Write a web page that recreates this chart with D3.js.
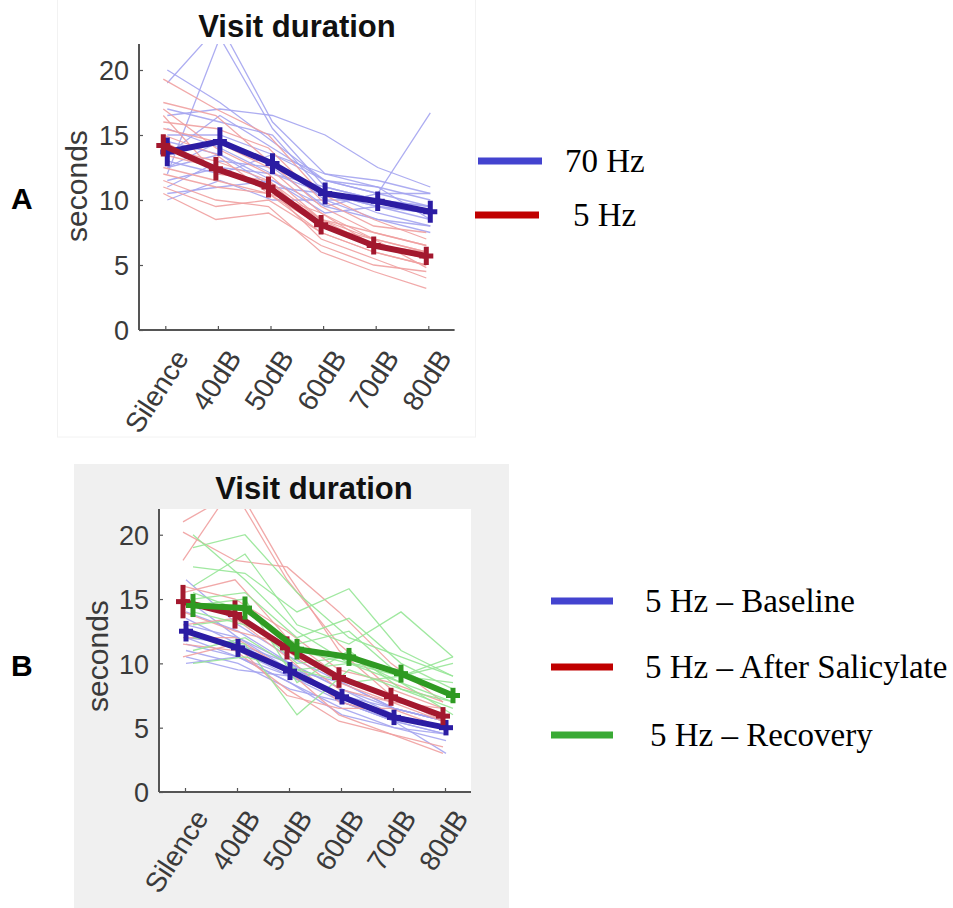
<!DOCTYPE html>
<html>
<head>
<meta charset="utf-8">
<script src="https://cdn.jsdelivr.net/npm/d3@7"></script>
<style>
  html, body { margin: 0; padding: 0; background: #ffffff; }
  svg { display: block; }
</style>
</head>
<body>
<svg id="chart" width="953" height="908"></svg>
<script>
// ---------------- DATA ----------------
const categories = ["Silence", "40dB", "50dB", "60dB", "70dB", "80dB"];
const yTicks = [0, 5, 10, 15, 20];

// Panel A — means and error (± seconds)
const a70Mean = [13.7, 14.5, 12.8, 10.5, 9.9, 9.1];
const a70Err  = [1.1, 1.1, 0.8, 0.85, 0.75, 0.85];
const a5Mean  = [14.2, 12.4, 11.0, 8.1, 6.5, 5.7];
const a5Err   = [0.85, 0.9, 0.8, 0.75, 0.7, 0.7];

// Panel A — individual animals
const a70Indiv = [
  [20.0, 17.5, 14.5, 11.5, 10.5, 9.5],
  [19.0, 23.5, 16.0, 12.0, 11.5, 10.5],
  [12.0, 22.5, 15.5, 11.0, 10.0, 9.0],
  [16.5, 17.0, 16.5, 15.0, 12.5, 11.0],
  [15.0, 15.0, 13.5, 11.5, 10.5, 16.7],
  [13.5, 16.5, 14.0, 11.5, 11.0, 10.0],
  [11.5, 12.5, 12.0, 10.5, 9.5, 9.0],
  [10.5, 11.0, 11.5, 9.0, 9.5, 8.5],
  [12.5, 14.5, 13.0, 10.0, 10.0, 9.5],
  [14.5, 13.5, 11.0, 10.5, 9.0, 8.0],
  [10.0, 11.5, 10.0, 10.0, 8.5, 7.5],
  [13.0, 12.0, 13.5, 12.0, 11.0, 8.5],
  [17.0, 16.0, 15.0, 10.5, 9.5, 9.0],
  [11.0, 13.0, 12.5, 9.5, 10.5, 10.5],
  [15.5, 14.0, 12.0, 11.0, 10.0, 9.5],
  [12.5, 13.5, 11.5, 9.5, 8.5, 8.0]
];
const a5Indiv = [
  [19.3, 17.0, 15.0, 10.5, 8.5, 7.0],
  [17.5, 16.5, 13.0, 9.5, 7.5, 6.5],
  [16.0, 15.5, 14.0, 10.0, 8.0, 7.5],
  [15.5, 14.5, 12.5, 9.0, 7.0, 6.0],
  [14.0, 13.0, 11.5, 8.5, 6.5, 6.0],
  [12.5, 11.5, 10.5, 8.0, 6.5, 5.5],
  [11.0, 9.5, 10.0, 7.5, 6.0, 5.0],
  [10.5, 8.5, 9.0, 6.5, 5.0, 4.5],
  [11.5, 10.0, 9.5, 6.0, 4.5, 3.2],
  [13.5, 12.5, 11.0, 7.0, 5.5, 4.0],
  [17.0, 14.0, 12.0, 8.5, 7.5, 6.5],
  [15.0, 13.5, 10.5, 7.5, 6.0, 5.0],
  [12.0, 11.0, 10.5, 9.0, 6.5, 5.5],
  [16.5, 12.0, 11.5, 8.0, 7.0, 4.8],
  [14.5, 12.5, 11.0, 8.5, 7.0, 6.0]
];

// Panel B — means and error
const bBaseMean = [12.5, 11.2, 9.4, 7.4, 5.8, 5.0];
const bBaseErr  = [0.8, 0.7, 0.7, 0.6, 0.6, 0.6];
const bSalMean  = [14.8, 13.8, 11.2, 8.9, 7.4, 5.9];
const bSalErr   = [1.3, 1.1, 0.9, 0.8, 0.7, 0.7];
const bRecMean  = [14.5, 14.3, 11.1, 10.5, 9.2, 7.5];
const bRecErr   = [0.9, 0.9, 0.8, 0.7, 0.7, 0.6];

// Panel B — individual animals
const bBaseIndiv = [
  [16.5, 13.0, 10.5, 8.5, 6.5, 5.5],
  [14.0, 12.5, 10.0, 8.0, 6.5, 5.5],
  [13.5, 11.5, 9.5, 7.5, 6.0, 5.0],
  [12.5, 11.0, 9.0, 7.0, 5.5, 4.5],
  [12.0, 11.5, 10.0, 8.0, 6.0, 5.0],
  [11.5, 10.5, 8.5, 6.5, 5.0, 4.0],
  [11.0, 10.0, 8.0, 7.0, 5.5, 3.0],
  [10.5, 9.5, 9.0, 7.5, 6.5, 5.5],
  [13.0, 12.0, 10.0, 7.0, 5.5, 4.5],
  [15.0, 12.0, 9.5, 8.5, 6.5, 5.5],
  [12.0, 10.5, 8.5, 6.0, 5.0, 4.5],
  [10.0, 10.5, 9.0, 7.5, 6.0, 5.0]
];
const bSalIndiv = [
  [21.0, 23.3, 16.5, 11.5, 8.0, 6.5],
  [20.2, 18.0, 17.5, 14.0, 10.0, 7.0],
  [18.0, 24.0, 17.0, 11.0, 7.5, 5.5],
  [15.5, 16.5, 12.0, 9.0, 7.5, 6.0],
  [14.5, 14.0, 11.0, 8.0, 7.0, 5.5],
  [13.0, 13.5, 10.5, 7.0, 6.0, 5.0],
  [12.0, 12.0, 9.5, 6.0, 4.5, 3.5],
  [11.5, 11.0, 8.0, 5.5, 4.5, 3.0],
  [16.0, 15.0, 12.5, 9.5, 8.5, 7.0],
  [14.0, 12.5, 11.5, 8.5, 7.0, 6.5],
  [10.5, 11.5, 7.5, 6.5, 6.5, 5.0]
];
const bRecIndiv = [
  [19.0, 20.0, 15.5, 12.0, 10.5, 9.0],
  [17.5, 17.0, 14.0, 15.8, 11.0, 9.0],
  [16.0, 18.5, 13.0, 11.5, 14.0, 10.5],
  [15.0, 15.5, 12.0, 13.5, 10.0, 8.0],
  [14.0, 13.0, 11.0, 10.0, 9.5, 7.5],
  [13.0, 13.5, 10.0, 10.5, 8.5, 7.0],
  [12.0, 11.5, 6.0, 9.5, 8.0, 6.5],
  [11.0, 12.0, 9.5, 8.5, 9.0, 10.5],
  [20.0, 16.5, 12.5, 10.0, 9.0, 8.5],
  [14.5, 15.0, 8.5, 11.0, 8.0, 7.0],
  [10.0, 10.5, 9.5, 10.0, 8.5, 6.0],
  [15.5, 14.0, 11.5, 12.5, 9.0, 10.0]
];

const legendA = ["70 Hz", "5 Hz"];
const legendB = ["5 Hz \u2013 Baseline", "5 Hz \u2013 After Salicylate", "5 Hz \u2013 Recovery"];

// ---------------- DRAWING ----------------
const svg = d3.select("#chart");
const SANS = "'Liberation Sans', Arial, Helvetica, sans-serif";
const SERIF = "'Liberation Serif', 'Times New Roman', serif";

const COL = {
  blueMean: "#2b1ca3", redMean: "#a3182e", greenMean: "#2f9a22",
  blueLight: "#a4a4f0", redLight: "#f0a0a0", greenLight: "#96e696",
  blueLeg: "#4343cf", redLeg: "#c00000", greenLeg: "#3aaa35"
};

function drawPanel(cfg) {
  const g = svg.append("g");
  if (cfg.bg) {
    g.append("rect").attr("x", cfg.bg[0]).attr("y", cfg.bg[1])
      .attr("width", cfg.bg[2]).attr("height", cfg.bg[3]).attr("fill", "#f0f0f0");
    g.append("rect").attr("x", cfg.left).attr("y", cfg.top)
      .attr("width", cfg.right - cfg.left).attr("height", cfg.bottom - cfg.top)
      .attr("fill", "#ffffff");
  }
  const x = d3.scaleLinear().domain([0.5, categories.length + 0.5]).range([cfg.left, cfg.right]);
  const y = d3.scaleLinear().domain([0, 22]).range([cfg.bottom, cfg.top]);

  const clipId = "clip" + cfg.id;
  svg.append("clipPath").attr("id", clipId).append("rect")
    .attr("x", cfg.left).attr("y", cfg.top)
    .attr("width", cfg.right - cfg.left).attr("height", cfg.bottom - cfg.top);
  const plot = g.append("g").attr("clip-path", `url(#${clipId})`);

  const line = (dx) => d3.line().x((d, i) => x(i + 1) + dx).y(d => y(d));

  // individual lines
  cfg.series.forEach(s => {
    s.indiv.forEach(arr => {
      plot.append("path").attr("d", line(s.dx)(arr)).attr("fill", "none")
        .attr("stroke", s.light).attr("stroke-width", 1.3).attr("opacity", 0.9);
    });
  });
  // mean lines with error bars
  cfg.series.forEach(s => {
    plot.append("path").attr("d", line(s.dx)(s.mean)).attr("fill", "none")
      .attr("stroke", s.color).attr("stroke-width", 6).attr("stroke-linejoin", "round");
    s.mean.forEach((m, i) => {
      const cx = x(i + 1) + s.dx;
      plot.append("line").attr("x1", cx).attr("x2", cx)
        .attr("y1", y(m - s.err[i])).attr("y2", y(m + s.err[i]))
        .attr("stroke", s.color).attr("stroke-width", 5);
      plot.append("line").attr("x1", cx - 7).attr("x2", cx + 7)
        .attr("y1", y(m)).attr("y2", y(m))
        .attr("stroke", s.color).attr("stroke-width", 5);
    });
  });

  // axes (MATLAB-like: inward ticks, left + bottom lines)
  const axCol = "#555555";
  const yAxis = d3.axisLeft(y).tickValues(yTicks).tickSize(-4).tickPadding(10).tickFormat(d3.format("d"));
  const ya = g.append("g").attr("transform", `translate(${cfg.left},0)`).call(yAxis);
  ya.select(".domain").attr("stroke", axCol).attr("stroke-width", 2)
    .attr("d", `M0,${cfg.top}V${cfg.bottom}`);
  ya.selectAll(".tick line").attr("stroke", axCol).attr("stroke-width", 1.2);
  ya.selectAll(".tick text").attr("font-family", SANS).attr("font-size", 27)
    .attr("fill", "#3a3a3a").attr("dy", "0.36em").attr("x", -10);

  const xAxis = d3.axisBottom(x).tickValues(d3.range(1, categories.length + 1))
    .tickSize(-4).tickFormat(i => categories[i - 1]);
  const xa = g.append("g").attr("transform", `translate(0,${cfg.bottom})`).call(xAxis);
  xa.select(".domain").attr("stroke", axCol).attr("stroke-width", 2)
    .attr("d", `M${cfg.left},0H${cfg.right}`);
  xa.selectAll(".tick line").attr("stroke", axCol).attr("stroke-width", 1.2);
  xa.selectAll(".tick text").attr("font-family", SANS).attr("font-size", 28)
    .attr("fill", "#3a3a3a").attr("text-anchor", "end")
    .attr("x", 0).attr("y", 0).attr("dy", 0)
    .attr("transform", `translate(24,${cfg.xlabDy}) rotate(-57)`);

  // y label
  g.append("text").attr("transform", `translate(${cfg.ylabX},${cfg.ylabY}) rotate(-90)`)
    .attr("text-anchor", "middle").attr("font-family", SANS).attr("font-size", 30)
    .attr("fill", "#3a3a3a").text("seconds");

  // title
  g.append("text").attr("x", cfg.titleX).attr("y", cfg.titleY)
    .attr("text-anchor", "middle").attr("font-family", SANS).attr("font-size", 31)
    .attr("font-weight", "bold").attr("fill", "#111").text("Visit duration");

  // panel letter
  g.append("text").attr("x", 11).attr("y", cfg.letterY).attr("font-family", SANS)
    .attr("font-size", 30).attr("font-weight", "bold").attr("fill", "#000").text(cfg.letter);

  // legend
  cfg.legend.forEach(L => {
    g.append("line").attr("x1", L.x1).attr("x2", L.x2).attr("y1", L.y).attr("y2", L.y)
      .attr("stroke", L.color).attr("stroke-width", 7);
    g.append("text").attr("x", L.tx).attr("y", L.y + 11).attr("font-family", SERIF)
      .attr("font-size", 33).attr("fill", "#000").text(L.label);
  });
}

// faint frame around panel A
svg.append("rect").attr("x", 57.5).attr("y", -1).attr("width", 418).attr("height", 438)
  .attr("fill", "none").attr("stroke", "#f2f2f2").attr("stroke-width", 1);

drawPanel({
  id: "A", left: 139, right: 454.6, top: 44, bottom: 330,
  ylabX: 87, ylabY: 186, titleX: 297, titleY: 37, letter: "A", letterY: 209, xlabDy: 28,
  series: [
    { indiv: a70Indiv, mean: a70Mean, err: a70Err, color: COL.blueMean, light: COL.blueLight, dx: 2 },
    { indiv: a5Indiv, mean: a5Mean, err: a5Err, color: COL.redMean, light: COL.redLight, dx: -2 }
  ],
  legend: [
    { x1: 478, x2: 542, y: 161, color: COL.blueLeg, tx: 565, label: legendA[0] },
    { x1: 475, x2: 539, y: 215, color: COL.redLeg, tx: 573, label: legendA[1] }
  ]
});

drawPanel({
  id: "B", left: 159, right: 471, top: 509, bottom: 792,
  bg: [74, 464, 435, 444],
  ylabX: 108, ylabY: 656, titleX: 314, titleY: 499, letter: "B", letterY: 676, xlabDy: 26,
  series: [
    { indiv: bBaseIndiv, mean: bBaseMean, err: bBaseErr, color: COL.blueMean, light: COL.blueLight, dx: 1 },
    { indiv: bSalIndiv, mean: bSalMean, err: bSalErr, color: COL.redMean, light: COL.redLight, dx: -2 },
    { indiv: bRecIndiv, mean: bRecMean, err: bRecErr, color: COL.greenMean, light: COL.greenLight, dx: 8 }
  ],
  legend: [
    { x1: 551, x2: 613, y: 601, color: COL.blueLeg, tx: 645, label: legendB[0] },
    { x1: 551, x2: 613, y: 667, color: COL.redLeg, tx: 645, label: legendB[1] },
    { x1: 551, x2: 613, y: 735, color: COL.greenLeg, tx: 650, label: legendB[2] }
  ]
});
</script>
</body>
</html>
